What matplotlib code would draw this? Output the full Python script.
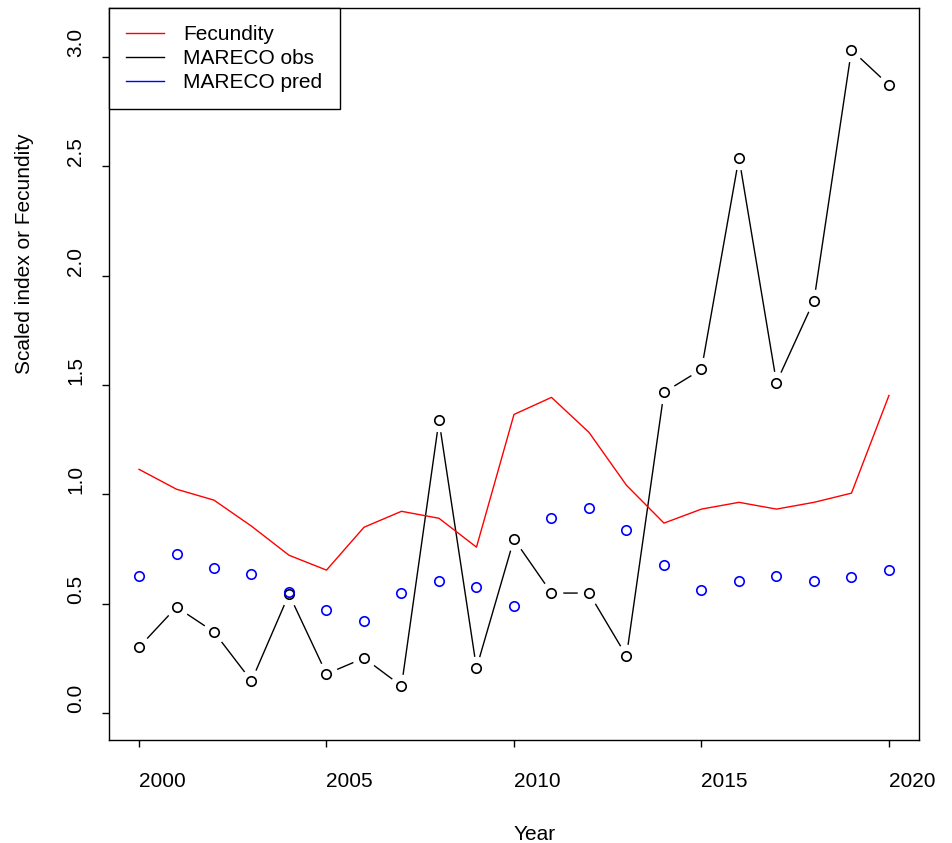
import numpy as np
import matplotlib.pyplot as plt

plt.rcParams['font.family'] = ['Liberation Sans', 'DejaVu Sans']

years = list(range(2000, 2021))
fecundity = [1.114, 1.023, 0.973, 0.854, 0.721, 0.653, 0.849, 0.922, 0.890, 0.758,
             1.365, 1.443, 1.283, 1.041, 0.868, 0.932, 0.963, 0.932, 0.963, 1.005, 1.452]
mareco_obs = [0.300, 0.484, 0.370, 0.146, 0.543, 0.178, 0.251, 0.123, 1.338, 0.205,
              0.795, 0.548, 0.548, 0.260, 1.466, 1.571, 2.539, 1.511, 1.886, 3.032, 2.872]
mareco_pred = [0.626, 0.726, 0.662, 0.635, 0.553, 0.470, 0.420, 0.548, 0.603, 0.575,
               0.489, 0.890, 0.936, 0.836, 0.676, 0.562, 0.603, 0.626, 0.603, 0.621, 0.653]
yticks = [0.0, 0.5, 1.0, 1.5, 2.0, 2.5, 3.0]
xticks = [2000, 2005, 2010, 2015, 2020]

fs = 15
fig = plt.figure(figsize=(9.52, 8.43), dpi=100)
ax = fig.add_axes([0.1145, 0.1222, 0.8508, 0.8683])

# black obs, "both" style: line broken around each point
ax.plot(years, mareco_obs, color='black', lw=1, label='MARECO obs', zorder=2)
ax.plot(years, mareco_obs, ls='none', marker='o', ms=17, mfc='white', mec='none', zorder=2.1)
ax.plot(years, mareco_obs, ls='none', marker='o', ms=6.8, mfc='none', mec='black', mew=1.2, zorder=3)
# red fecundity line
ax.plot(years, fecundity, color='red', lw=1, label='Fecundity', zorder=2.5)
# blue predicted points
ax.plot(years, mareco_pred, ls='none', marker='o', ms=6.8, mfc='none', mec='blue', mew=1.2, zorder=3)
ax.plot([], [], color='blue', lw=1, label='MARECO pred')

ax.set_xlim(1999.2, 2020.8)
ax.set_ylim(-0.124, 3.224)
ax.set_xticks(xticks)
ax.set_xticklabels([str(x) for x in xticks], fontsize=fs, ha='left')
ax.set_yticks(yticks)
ax.set_yticklabels(['%.1f' % v for v in yticks], fontsize=fs, rotation=90,
                   rotation_mode='anchor', ha='left', va='center')
ax.tick_params(axis='x', direction='out', length=5, width=1, pad=18)
ax.tick_params(axis='y', direction='out', length=5, width=1, pad=19)
for s in ax.spines.values():
    s.set_linewidth(1)

ax.set_xlabel('Year', fontsize=fs, ha='left', va='center')
ax.xaxis.set_label_coords(0.5, -0.129)
ax.set_ylabel('Scaled index or Fecundity', fontsize=fs, rotation_mode='anchor',
              ha='left', va='center')
ax.yaxis.set_label_coords(-0.104, 0.5)

h, l = ax.get_legend_handles_labels()
order = [1, 0, 2]
leg = ax.legend([h[i] for i in order], [l[i] for i in order], loc='upper left',
                borderaxespad=0, fancybox=False, fontsize=fs,
                handlelength=1.8, handletextpad=0.95, borderpad=0.82, labelspacing=0.24)
leg.get_frame().set_edgecolor('black')
leg.get_frame().set_linewidth(1)
leg.get_frame().set_alpha(1)

fig.savefig('out.png', dpi=100)
